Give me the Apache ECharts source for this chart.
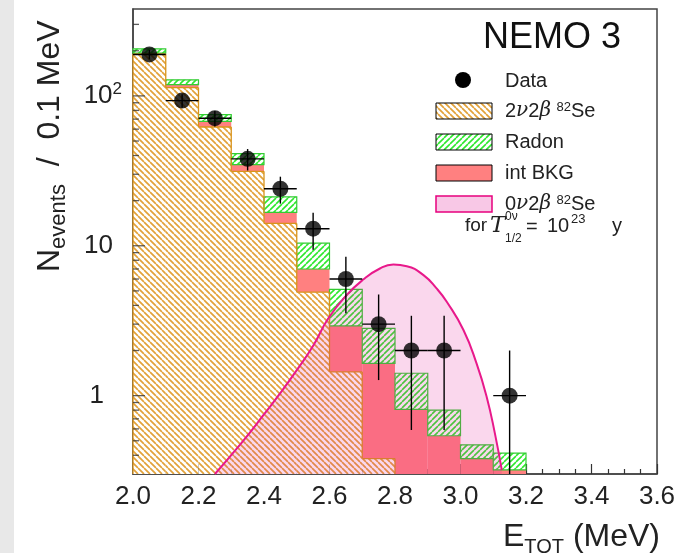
<!DOCTYPE html>
<html><head><meta charset="utf-8">
<script src="https://cdn.jsdelivr.net/npm/echarts@6/dist/echarts.min.js"></script>
<style>html,body{margin:0;padding:0;background:#fff}#c{width:685px;height:553px}</style>
</head><body><div id="c"></div>
<script>
// ---- data ----
const binLow   = [2.0, 2.1, 2.2, 2.3, 2.4, 2.5, 2.6, 2.7, 2.8, 2.9, 3.0, 3.1];
const binWidth = 0.1;
const twoNuBB  = [190, 113.5, 62, 31.4, 14.1, 4.9, 1.44, 0.38, 0.2, 0.12, 0.07, 0.04];
const intBkg   = [3, 5.5, 5.7, 3.4, 2.6, 2.1, 1.48, 1.26, 0.61, 0.42, 0.31, 0.28];
const radon    = [13, 9, 7.3, 6.4, 4.5, 3.4, 2.19, 1.17, 0.60, 0.26, 0.09, 0.094];
const dataCounts = [189, 93, 71, 38, 24, 13, 6, 3, 2, 2, 0, 1];
const dataErr    = [13.7, 9.6, 8.4, 6.2, 4.9, 3.6, 2.45, 1.73, 1.41, 1.41, 0, 1];
const sigE = [2.25, 2.296, 2.347, 2.398, 2.449, 2.500, 2.551, 2.596, 2.652, 2.703, 2.754, 2.795, 2.836, 2.887, 2.927, 2.958, 3.009, 3.049, 3.080, 3.105, 3.126];
const sigV = [0.30, 0.392, 0.532, 0.741, 1.035, 1.48, 2.17, 3.27, 4.68, 5.95, 7.05, 7.49, 7.31, 6.37, 5.19, 4.23, 2.74, 1.64, 0.98, 0.56, 0.319];
const yMajorTicks = [1, 10, 100];
const yMinorTicks = [0.4, 0.5, 0.6, 0.7, 0.8, 0.9, 2, 3, 4, 5, 6, 7, 8, 9, 20, 30, 40, 50, 60, 70, 80, 90, 200, 300];
const xMin = 2.0, xMax = 3.6, xStep = 0.2;
const yMin = 0.3, yMax = 380;

// ---- styles ----
const FONT = 'Liberation Sans';
function makeHatch(color, size, width, dir) {
  const c = document.createElement('canvas');
  c.width = size; c.height = size;
  const g = c.getContext('2d');
  g.fillStyle = '#fff'; g.fillRect(0, 0, size, size);
  g.strokeStyle = color; g.lineWidth = width;
  g.beginPath();
  for (let k = -1; k <= 1; k++) {
    if (dir === 'back') { g.moveTo(k * size, 0); g.lineTo(k * size + size, size); }
    else { g.moveTo(k * size, size); g.lineTo(k * size + size, 0); }
  }
  g.stroke();
  return c;
}
const orangeHatch = { image: makeHatch('#e2a23a', 6, 1.7, 'back'), repeat: 'repeat' };
const greenHatch  = { image: makeHatch('#2ee82e', 6, 1.6, 'fwd'), repeat: 'repeat' };
const redFill = '#ff8080';

// stacked segments built from the arrays
const FLOOR = 0.01;
const segOrange = [], segRed = [], segGreen = [], outlineOrange = [];
binLow.forEach((x0, i) => {
  const x1 = x0 + binWidth;
  const o = twoNuBB[i], r = o + intBkg[i], g = r + radon[i];
  segOrange.push([x0, x1, FLOOR, o]);
  segRed.push([x0, x1, o, r]);
  segGreen.push([x0, x1, r, g]);
  outlineOrange.push([x0, x1, o, i > 0 ? twoNuBB[i - 1] : FLOOR]);
});
const errData = [], ptData = [];
binLow.forEach((x0, i) => {
  if (dataCounts[i] > 0) {
    errData.push([x0, x0 + binWidth, dataCounts[i], dataErr[i]]);
    ptData.push([x0 + binWidth / 2, dataCounts[i]]);
  }
});

function rectRenderer(style) {
  return function (params, api) {
    const a = api.coord([api.value(0), api.value(3)]);
    const b = api.coord([api.value(1), api.value(2)]);
    const cs = params.coordSys;
    const shape = echarts.graphic.clipRectByRect(
      { x: a[0], y: a[1], width: b[0] - a[0], height: b[1] - a[1] },
      { x: cs.x, y: cs.y, width: cs.width, height: cs.height });
    if (!shape) return;
    return { type: 'rect', shape: shape, style: Object.assign({}, style) };
  };
}
function stepRenderer(params, api) {
  const x0 = api.value(0), x1 = api.value(1), o = api.value(2), prev = api.value(3);
  const children = [];
  const st = { stroke: '#d8941c', lineWidth: 1.3, fill: null };
  const top = Math.max(o, yMin), ptop = Math.max(prev, yMin);
  if (o > yMin) {
    const a = api.coord([x0, o]), b = api.coord([x1, o]);
    children.push({ type: 'line', shape: { x1: a[0], y1: a[1], x2: b[0], y2: b[1] }, style: st });
  }
  if (top !== ptop) {
    const a = api.coord([x0, ptop]), b = api.coord([x0, top]);
    children.push({ type: 'line', shape: { x1: a[0], y1: a[1], x2: b[0], y2: b[1] }, style: st });
  }
  return { type: 'group', children: children };
}
function errRenderer(params, api) {
  const cs = params.coordSys;
  const x0 = api.value(0), x1 = api.value(1), v = api.value(2), e = api.value(3);
  const xc = (x0 + x1) / 2;
  const pL = api.coord([x0, v]), pR = api.coord([x1, v]);
  const pT = api.coord([xc, v + e]);
  const lo = Math.max(v - e, 0.001);
  const pB = api.coord([xc, lo]);
  const bottom = cs.y + cs.height;
  const st = { stroke: '#000', lineWidth: 1.4 };
  return { type: 'group', children: [
    { type: 'line', shape: { x1: pL[0], y1: pL[1], x2: pR[0], y2: pR[1] }, style: st },
    { type: 'line', shape: { x1: pT[0], y1: Math.max(pT[1], cs.y), x2: pB[0], y2: Math.min(pB[1], bottom) }, style: st }
  ]};
}

const txt = (x, y, text, font, extra) => ({ type: 'text', x: x, y: y, z: 10,
  style: Object.assign({ text: text, font: font, fill: '#222', verticalAlign: 'middle' }, extra || {}) });
const greekRich = { i: { fontSize: 20, fontFamily: 'DejaVu Serif', fontStyle: 'italic', fill: '#222' },
                    s: { fontSize: 13, fontFamily: FONT, fill: '#222', verticalAlign: 'top', lineHeight: 13 } };

const option = {
  animation: false,
  backgroundColor: '#fff',
  grid: { left: 133, top: 9, right: 28, bottom: 79, show: true, borderColor: '#444', borderWidth: 1.5, backgroundColor: 'transparent' },
  xAxis: {
    type: 'value', min: xMin, max: xMax, interval: xStep,
    axisLine: { lineStyle: { color: '#444', width: 1.5 } },
    axisTick: { inside: true, length: 10, lineStyle: { color: '#333', width: 1.2 } },
    minorTick: { show: true, splitNumber: 4, length: 5, lineStyle: { color: '#333', width: 1.2 } },
    splitLine: { show: false },
    axisLabel: { formatter: v => v.toFixed(1), fontSize: 26, fontFamily: FONT, color: '#222', margin: 10 }
  },
  yAxis: {
    type: 'log', min: yMin, max: yMax, logBase: 10,
    axisLine: { lineStyle: { color: '#444', width: 1.5 } },
    axisTick: { show: false },
    splitLine: { show: false },
    axisLabel: {
      showMinLabel: false, showMaxLabel: false, margin: 11,
      formatter: function (v) {
        if (Math.abs(v - 1) < 1e-9) return '{m0|1}';
        if (Math.abs(v - 10) < 1e-9) return '{m1|10}';
        if (Math.abs(v - 100) < 1e-9) return '{m|10}{s|2}';
        return '';
      },
      rich: {
        m0: { fontSize: 26, fontFamily: FONT, color: '#222', padding: [0, 18, 0, 0] },
        m1: { fontSize: 26, fontFamily: FONT, color: '#222', padding: [0, 9, 0, 0] },
        m: { fontSize: 26, fontFamily: FONT, color: '#222', lineHeight: 30 },
        s: { fontSize: 17, fontFamily: FONT, color: '#222', verticalAlign: 'top', lineHeight: 17 }
      }
    }
  },
  series: [
    { type: 'custom', name: '2nu2beta', data: segOrange, renderItem: rectRenderer({ fill: orangeHatch }), z: 2, silent: true },
    { type: 'custom', name: 'intBKG', data: segRed, renderItem: rectRenderer({ fill: redFill }), z: 2, silent: true },
    { type: 'custom', name: 'Radon', data: segGreen, renderItem: rectRenderer({ fill: greenHatch, stroke: '#33cc33', lineWidth: 1.2 }), z: 2, silent: true },
    { type: 'custom', name: '2nu2betaOutline', data: outlineOrange, renderItem: stepRenderer, z: 2, silent: true },
    { type: 'line', name: '0nu2beta', data: sigE.map((e, i) => [e, sigV[i]]), smooth: true, showSymbol: false, z: 3, silent: true,
      lineStyle: { color: '#e8198b', width: 2 },
      areaStyle: { color: 'rgba(228,20,150,0.24)', origin: 'start' } },
    { type: 'custom', name: 'dataErr', data: errData, renderItem: errRenderer, z: 4, silent: true },
    { type: 'scatter', name: 'Data', data: ptData, symbol: 'circle', symbolSize: 16, itemStyle: { color: '#000' }, z: 5, silent: true },
    { type: 'scatter', name: 'yMajor', data: yMajorTicks.map(v => [xMin, v]), symbol: 'rect', symbolSize: [12, 1.3], symbolOffset: [6, 0], itemStyle: { color: '#333' }, clip: false, z: 6, silent: true },
    { type: 'scatter', name: 'yMinor', data: yMinorTicks.map(v => [xMin, v]), symbol: 'rect', symbolSize: [6, 1.3], symbolOffset: [3, 0], itemStyle: { color: '#333' }, clip: false, z: 6, silent: true }
  ],
  graphic: [
    { type: 'rect', shape: { x: 0, y: 0, width: 14, height: 553 }, style: { fill: '#e8e8e8' }, z: -10 },
    // y axis title
    { type: 'text', x: 50, y: 272, rotation: Math.PI / 2, style: {
        text: '{a|N}{b|events}{a|  /  0.1 MeV}', align: 'left', verticalAlign: 'middle',
        rich: { a: { fontSize: 32, fontFamily: FONT, fill: '#222', lineHeight: 40 },
                b: { fontSize: 22, fontFamily: FONT, fill: '#222', lineHeight: 22, verticalAlign: 'bottom' } } } },
    // x axis title
    { type: 'text', x: 660, y: 537, style: {
        text: '{a|E}{b|TOT}{a| (MeV)}', align: 'right', verticalAlign: 'middle',
        rich: { a: { fontSize: 32, fontFamily: FONT, fill: '#222', lineHeight: 40 },
                b: { fontSize: 20, fontFamily: FONT, fill: '#222', lineHeight: 20, verticalAlign: 'bottom' } } } },
    // legend
    txt(483, 38, 'NEMO 3', '36px "Liberation Sans"', { fill: '#111' }),
    { type: 'circle', shape: { cx: 463, cy: 80, r: 8 }, style: { fill: '#000' }, z: 10 },
    txt(505, 81, 'Data', '20px "Liberation Sans"'),
    { type: 'rect', shape: { x: 436, y: 103, width: 56, height: 16 }, style: { fill: orangeHatch, stroke: '#000', lineWidth: 1 }, z: 10 },
    txt(505, 111, '2{i|ν}2{i|β} {s|82}Se', '20px "Liberation Sans"', { rich: greekRich }),
    { type: 'rect', shape: { x: 436, y: 134, width: 56, height: 16 }, style: { fill: greenHatch, stroke: '#000', lineWidth: 1 }, z: 10 },
    txt(505, 142, 'Radon', '20px "Liberation Sans"'),
    { type: 'rect', shape: { x: 436, y: 165, width: 56, height: 16 }, style: { fill: redFill, stroke: '#000', lineWidth: 1 }, z: 10 },
    txt(505, 173, 'int BKG', '20px "Liberation Sans"'),
    { type: 'rect', shape: { x: 436, y: 196, width: 56, height: 16 }, style: { fill: '#f8c8e6', stroke: '#e6007e', lineWidth: 1.5 }, z: 10 },
    txt(505, 204, '0{i|ν}2{i|β} {s|82}Se', '20px "Liberation Sans"', { rich: greekRich }),
    txt(465, 226, 'for', '19px "Liberation Sans"'),
    txt(490, 226, 'T', 'italic 23px "DejaVu Serif"'),
    txt(505, 217, '0ν', '12px "Liberation Sans"'),
    txt(505, 239, '1/2', '12px "Liberation Sans"'),
    txt(526, 227, '=', '20px "Liberation Sans"'),
    txt(547, 226, '10', '20px "Liberation Sans"'),
    txt(571, 219, '23', '13px "Liberation Sans"'),
    txt(612, 226, 'y', '20px "Liberation Sans"')
  ]
};
const chart = echarts.init(document.getElementById('c'), null, { renderer: 'canvas' });
chart.setOption(option);
</script></body></html>
